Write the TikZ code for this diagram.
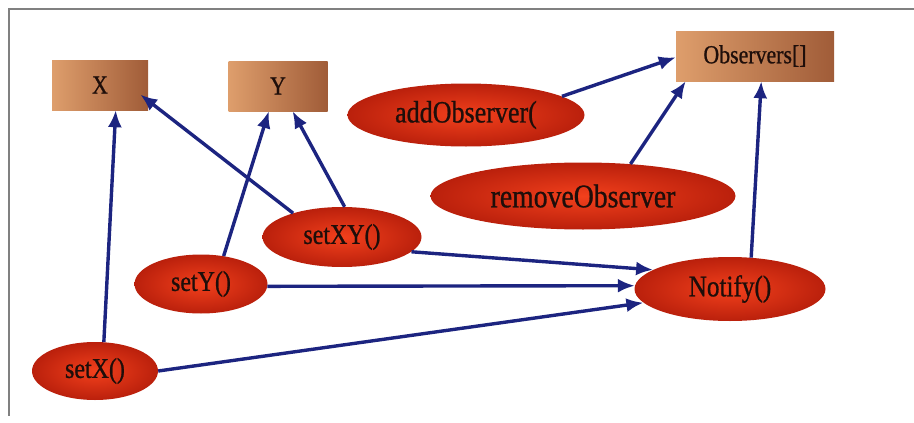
\documentclass[tikz,border=0pt]{standalone}
\usepackage{fontspec}
\setmainfont{Liberation Serif}
\newfontfamily\tallfont[FakeStretch = 0.84, FakeBold = 0.8]{Liberation Serif}
\usetikzlibrary{shapes.geometric, arrows.meta}

\definecolor{boxlight}{RGB}{222,158,108}
\definecolor{boxdark}{RGB}{160,92,56}
\definecolor{redlight}{RGB}{242,64,28}
\definecolor{reddark}{RGB}{186,32,12}
\definecolor{linkblue}{RGB}{28,36,128}
\definecolor{labeltext}{RGB}{30,14,10}

\begin{document}
\begin{tikzpicture}[x = 1pt, y = -1pt,
	databox/.style = {rectangle, minimum height = 50pt, inner sep = 0pt,
		left color = boxlight, right color = boxdark, text = labeltext,
		font = \tallfont\fontsize{26}{28}\selectfont},
	method/.style = {ellipse, inner sep = 0pt, shading = radial,
		inner color = redlight, outer color = reddark, text = labeltext,
		font = \tallfont\fontsize{28.5}{30}\selectfont},
	link/.style = {-{Latex[length = 17pt, width = 14pt]}, linkblue, line width = 3.4pt}]

	% Page size and frame

	\useasboundingbox (0, 0) rectangle (914, 423);
	\draw [gray, line width = 1.2pt] (914, 9) -- (9, 9) -- (9, 416);

	% Data boxes

	\node [databox, minimum width = 96pt] (X) at (100, 85) {X};
	\node [databox, minimum width = 99pt] (Y) at (278, 86) {Y};
	\node [databox, minimum width = 158pt] (Observers) at (755, 56) {Observers[]};

	% Methods

	\node [method, minimum width = 237pt, minimum height = 63pt, font = \tallfont\fontsize{31}{33}\selectfont] (addObserver) at (466, 115) {addObserver(};
	\node [method, minimum width = 305pt, minimum height = 67pt, font = \tallfont\fontsize{33}{35}\selectfont] (removeObserver) at (583, 196) {removeObserver};
	\node [method, minimum width = 159pt, minimum height = 60pt] (setXY) at (342, 237) {setXY()};
	\node [method, minimum width = 133pt, minimum height = 59pt] (setY) at (201, 284) {setY()};
	\node [method, minimum width = 126pt, minimum height = 58pt] (setX) at (95, 371) {setX()};
	\node [method, minimum width = 191pt, minimum height = 64pt, font = \tallfont\fontsize{30}{32}\selectfont] (Notify) at (730, 289) {Notify()};

	% Connectors

	\foreach \from/\to in {setX.73/X.-58, setY.51/Y.-110, setXY.85/Y.-60,
		addObserver.11/Observers.181, removeObserver.34/Observers.200,
		Notify.56/Observers.-76, setXY.-12/Notify.166, setY.-2/Notify.178,
		setX.0/Notify.189}
	{
		\draw [link] (\from) -- (\to);
	}
	\draw [link, shorten > = -10pt] (setXY.154) -- (X.-18);

\end{tikzpicture}
\end{document}
